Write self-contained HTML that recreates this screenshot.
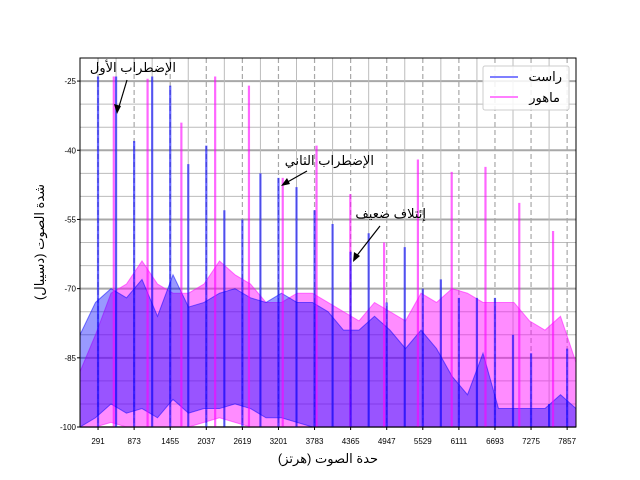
<!DOCTYPE html>
<html><head><meta charset="utf-8">
<style>
body{margin:0;background:#fff;}
svg{display:block;font-family:"Liberation Sans","DejaVu Sans",sans-serif;}
</style></head>
<body>
<svg id="chart" width="640" height="480" viewBox="0 0 640 480">
<g id="grid"></g>
<g id="series"></g>
<g id="axes"></g>
<text x="328" y="463" font-size="13" text-anchor="middle">حدة الصوت (هرتز)</text>
<text transform="translate(44,242) rotate(-90)" font-size="13" text-anchor="middle">شدة الصوت (دسيبال)</text>
<g>
<rect x="483" y="66" width="86" height="44" rx="2" fill="#fff" fill-opacity="0.85" stroke="#ccc"/>
<line x1="490" y1="77" x2="518" y2="77" stroke="#7f7fff" stroke-width="2"/>
<text x="562" y="81" font-size="13" text-anchor="end">راست</text>
<line x1="490" y1="97" x2="518" y2="97" stroke="#ff7fff" stroke-width="2"/>
<text x="560" y="102" font-size="13" text-anchor="end">ماهور</text>
</g>
<g font-size="13">
<text x="176" y="72" text-anchor="end">الإضطراب الأول</text>
<line x1="127" y1="80" x2="118" y2="110" stroke="#000" stroke-width="1.2"/>
<polygon points="117,114 114,104 121,106" fill="#000"/>
<text x="374" y="165" text-anchor="end">الإضطراب الثاني</text>
<line x1="307" y1="171" x2="284" y2="184" stroke="#000" stroke-width="1.2"/>
<polygon points="281,186 287,178 290,184" fill="#000"/>
<text x="426" y="218" text-anchor="end">إئتلاف ضعيف</text>
<line x1="380" y1="226" x2="355" y2="258" stroke="#000" stroke-width="1.2"/>
<polygon points="353,262 354,252 360,256" fill="#000"/>
</g>
</svg>
<script>
const xTicks=[291,873,1455,2037,2619,3201,3783,4365,4947,5529,6111,6693,7275,7857];
const yTicks=[-25,-40,-55,-70,-85,-100];
const envFreqs=[0,250,500,750,1000,1250,1500,1750,2000,2250,2500,2750,3000,3250,3500,3750,4000,4250,4500,4750,5000,5250,5500,5750,6000,6250,6500,6750,7000,7250,7500,7750,8000];
const rastUpper=[-80,-73,-70,-72,-68,-76,-67,-74,-73,-71,-70,-72,-73,-71,-73,-73,-75,-79,-79,-76,-79,-83,-79,-83,-89,-93,-84,-96,-96,-96,-96,-93,-96];
const rastLower=[-100,-98,-95,-97,-96,-98,-94,-97,-96,-96,-95,-96,-98,-98,-99,-100,-100,-100,-100,-100,-100,-100,-100,-100,-100,-100,-100,-100,-100,-100,-100,-100,-100];
const mahourUpper=[-88,-80,-71,-69,-64,-69,-71,-71,-69,-64,-67,-69,-73,-73,-71,-71,-73,-75,-77,-73,-75,-77,-71,-73,-70,-71,-73,-73,-73,-77,-79,-76,-86];
const mahourLower=[-100,-100,-99,-100,-100,-100,-100,-100,-99,-98,-99,-100,-100,-100,-100,-100,-100,-100,-100,-100,-100,-100,-100,-100,-100,-100,-100,-100,-100,-100,-100,-100,-100];
const rastF0=291;
const rastPeaks=[-24,-24,-38,-24,-26,-43,-39,-53,-55,-45,-46,-48,-53,-56,-62,-58,-73,-61,-70,-68,-72,-72,-72,-80,-84,-95,-83];
const mahourF0=545;
const mahourPeaks=[-24,-24.5,-34,-24,-26,-46,-39,-49.5,-60,-42,-44.7,-43.6,-51.4,-57.5];

const X0=80,X1=576,Y0=58,Y1=427,FMAX=8000,VMIN=-100,VMAX=-20;
const sx=f=>X0+f*(X1-X0)/FMAX;
const sy=v=>Y1-(v-VMIN)*(Y1-Y0)/(VMAX-VMIN);
const NS="http://www.w3.org/2000/svg";
function mk(tag,attrs,parent){const e=document.createElementNS(NS,tag);for(const k in attrs)e.setAttribute(k,attrs[k]);parent.appendChild(e);return e;}
const grid=document.getElementById('grid'),series=document.getElementById('series'),axes=document.getElementById('axes');

for(let v=-100;v<=-20;v+=5){
  const major=yTicks.includes(v);
  const l=mk('line',{x1:X0,x2:X1,y1:sy(v),y2:sy(v),stroke:major?'#a8a8a8':'#bcbcbc','stroke-width':major?2:1},grid);
  
  
}
for(let f=582;f<FMAX;f+=582){
  const l=mk('line',{x1:sx(f),x2:sx(f),y1:Y0,y2:Y1,stroke:'#bcbcbc','stroke-width':1},grid);
  
  
}
xTicks.forEach(f=>{
  const l=mk('line',{x1:sx(f),x2:sx(f),y1:Y0,y2:Y1,stroke:'#a8a8a8','stroke-width':1.2,'stroke-dasharray':'5,3'},grid);
  
  
});

function band(up,lo,color,op,name){
  let pts=envFreqs.map((f,i)=>sx(f)+','+sy(up[i]));
  for(let i=envFreqs.length-1;i>=0;i--)pts.push(sx(envFreqs[i])+','+sy(lo[i]));
  const p=mk('polygon',{points:pts.join(' '),fill:color,'fill-opacity':op,stroke:color,'stroke-opacity':0.5,'stroke-width':1},series);
  
  
}
function peaks(f0,vals,color,name){
  vals.forEach((v,i)=>{
    const x=sx(f0*(i+1));
    const l=mk('line',{x1:x,x2:x,y1:Y1,y2:sy(v),stroke:color,'stroke-opacity':0.6,'stroke-width':2.2},series);
    
    
  });
}
band(mahourUpper,mahourLower,'#ff00ff',0.45,'mahour-noise-band');
band(rastUpper,rastLower,'#0000ff',0.4,'rast-noise-band');
peaks(mahourF0,mahourPeaks,'#ff00ff','mahour-peak');
peaks(rastF0,rastPeaks,'#0000ff','rast-peak');

const fr=mk('rect',{x:X0,y:Y0,width:X1-X0,height:Y1-Y0,fill:'none',stroke:'#000','stroke-width':1},axes);


xTicks.forEach(f=>{
  const t=mk('line',{x1:sx(f),x2:sx(f),y1:Y1,y2:Y1+3,stroke:'#000'},axes);
  
  
  const tx=mk('text',{x:sx(f),y:Y1+17,'font-size':8,'text-anchor':'middle'},axes);
  tx.textContent=f;
  
  
});
yTicks.forEach(v=>{
  const t=mk('line',{x1:X0-3,x2:X0,y1:sy(v),y2:sy(v),stroke:'#000'},axes);
  
  
  const tx=mk('text',{x:X0-4,y:sy(v)+3,'font-size':8,'text-anchor':'end'},axes);
  tx.textContent=v;
  
  
});
</script>
</body></html>
